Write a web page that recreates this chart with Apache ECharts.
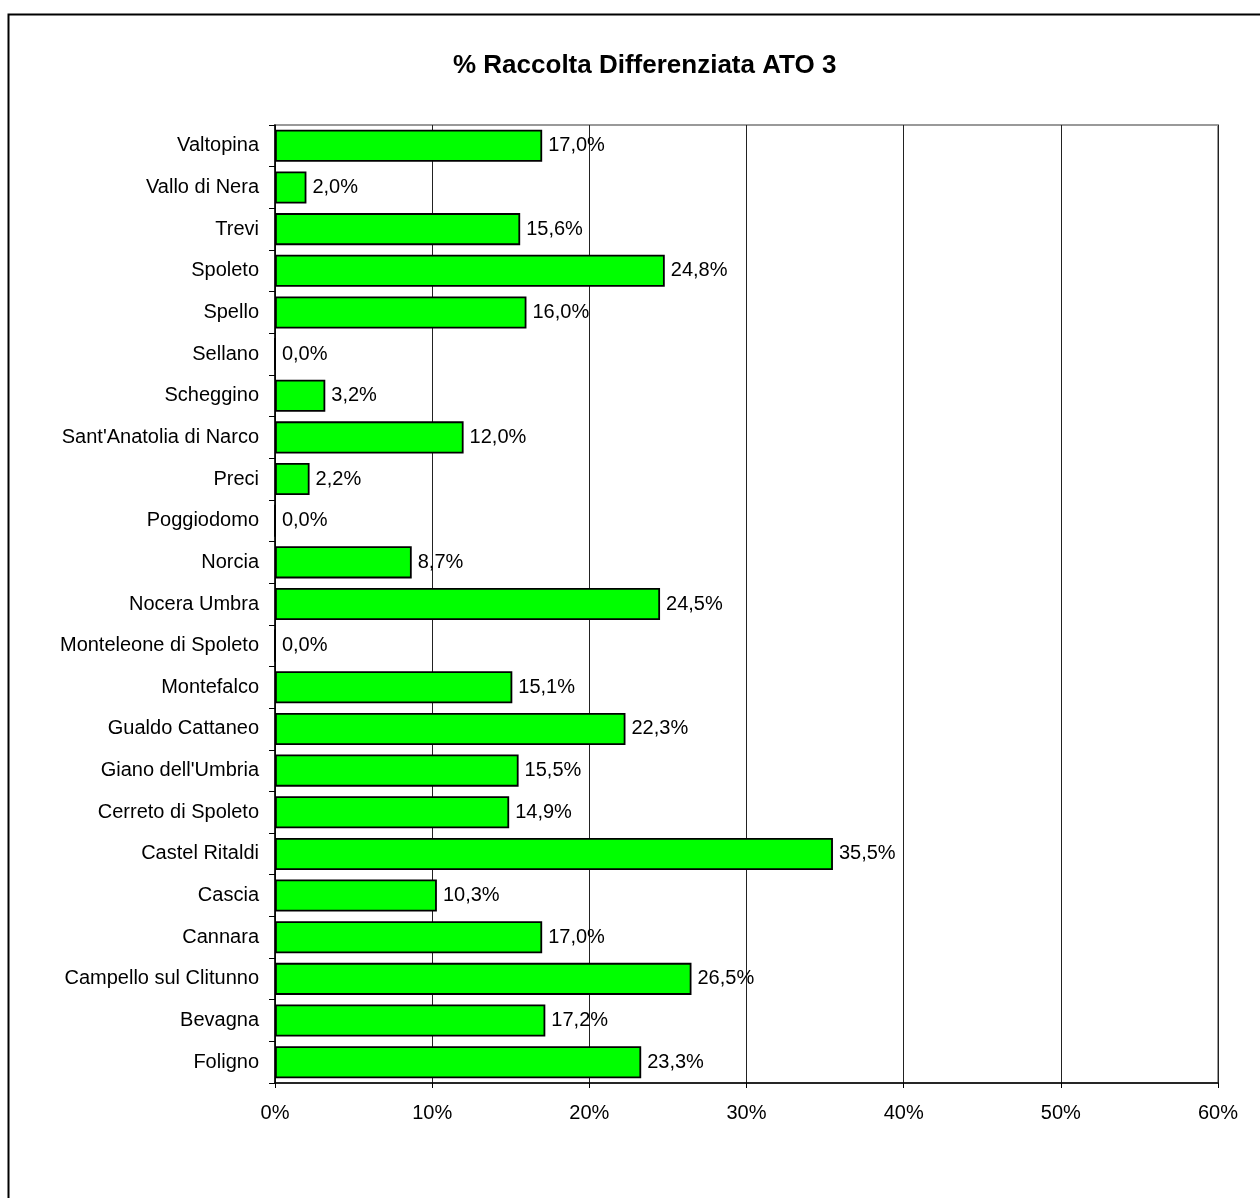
<!DOCTYPE html>
<html>
<head>
<meta charset="utf-8">
<script src="https://cdn.jsdelivr.net/npm/echarts@6/dist/echarts.min.js"></script>
<style>
  html, body { margin: 0; padding: 0; background: #fff; }
  #chart { width: 1260px; height: 1198px; }
</style>
</head>
<body>
<div id="chart"></div>
<script>
// Municipalities of ATO 3, listed top to bottom
const comuni = [
  'Valtopina', 'Vallo di Nera', 'Trevi', 'Spoleto', 'Spello', 'Sellano',
  'Scheggino', "Sant'Anatolia di Narco", 'Preci', 'Poggiodomo', 'Norcia',
  'Nocera Umbra', 'Monteleone di Spoleto', 'Montefalco', 'Gualdo Cattaneo',
  "Giano dell'Umbria", 'Cerreto di Spoleto', 'Castel Ritaldi', 'Cascia',
  'Cannara', 'Campello sul Clitunno', 'Bevagna', 'Foligno'
];
// Separate collection share (%)
const percentuali = [
  17.0, 2.0, 15.6, 24.8, 16.0, 0.0,
  3.2, 12.0, 2.2, 0.0, 8.7,
  24.5, 0.0, 15.1, 22.3,
  15.5, 14.9, 35.5, 10.3,
  17.0, 26.5, 17.2, 23.3
];
const assePercentuale = { min: 0, max: 60, interval: 10 };

const fontFamily = '"Liberation Sans", Arial, sans-serif';
const chart = echarts.init(document.getElementById('chart'), null, { renderer: 'canvas' });

chart.setOption({
  backgroundColor: '#ffffff',
  animation: false,
  title: {
    text: '% Raccolta Differenziata ATO 3',
    left: 448,
    top: 48,
    textStyle: { fontFamily: fontFamily, fontSize: 26, fontWeight: 'bold', color: '#000' }
  },
  graphic: [{
    type: 'rect',
    shape: { x: 8.5, y: 14.5, width: 1300, height: 1300 },
    style: { fill: null, stroke: '#000', lineWidth: 2 },
    silent: true,
    z: -1
  }],
  grid: {
    left: 275, right: 42, top: 125, bottom: 115,
    show: true, borderColor: '#999', borderWidth: 2, backgroundColor: 'transparent'
  },
  xAxis: {
    type: 'value',
    min: assePercentuale.min,
    max: assePercentuale.max,
    interval: assePercentuale.interval,
    axisLine: { show: true, lineStyle: { color: '#000', width: 1.5 } },
    axisTick: { show: true, length: 5, lineStyle: { color: '#000' } },
    splitLine: { show: true, lineStyle: { color: '#222', width: 1 } },
    axisLabel: {
      margin: 20,
      fontFamily: fontFamily, fontSize: 20, color: '#000',
      formatter: v => v + '%'
    }
  },
  yAxis: {
    type: 'category',
    inverse: true,
    data: comuni,
    axisLine: { show: true, lineStyle: { color: '#000', width: 1.5 } },
    axisTick: { show: true, length: 6, lineStyle: { color: '#000' } },
    axisLabel: { margin: 16, fontFamily: fontFamily, fontSize: 20, color: '#000' }
  },
  series: [{
    type: 'bar',
    data: percentuali,
    barCategoryGap: '23%',
    itemStyle: { color: '#00ff00', borderColor: '#000', borderWidth: 1.8 },
    label: {
      show: true,
      position: 'right',
      distance: 6,
      fontFamily: fontFamily, fontSize: 20, color: '#000',
      formatter: p => p.value.toFixed(1).replace('.', ',') + '%'
    }
  }]
});
</script>
</body>
</html>
